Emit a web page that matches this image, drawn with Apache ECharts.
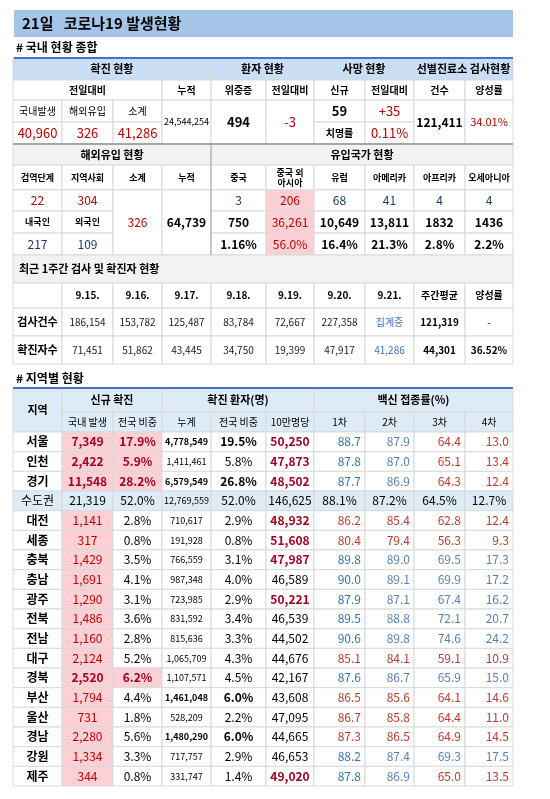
<!DOCTYPE html>
<html><head><meta charset="utf-8">
<script src="https://cdn.jsdelivr.net/npm/echarts@6/dist/echarts.min.js"></script>
<style>html,body{margin:0;padding:0;background:#fff}#c{width:550px;height:799px}</style>
</head><body><div id="c"></div>
<script>
// ---------- data ----------
const titleText = '21일   코로나19 발생현황';
const summaryHeaders = ['확진 현황','환자 현황','사망 현황','선별진료소 검사현황'];
const summarySub = ['전일대비','누적','위중증','전일대비','신규','전일대비','건수','양성률'];
const newLabels = ['국내발생','해외유입','소계'];
const newValues = [40960, 326, 41286];
const cumulative = 24544254;
const critical = 494, criticalDiff = '-3';
const deaths = 59, deathDiff = '+35', fatality = '0.11%';
const tests = 121411, posRate = '34.01%';

const importLabels = ['검역단계','지역사회','소계','누적'];
const countryNames = ['중국','중국 외\n아시아','유럽','아메리카','아프리카','오세아니아'];
const importStage = [22, 304];
const importNat = [217, 109];
const importTotal = 326, importCum = 64739;
const countryNew = [3, 206, 68, 41, 4, 4];
const countryCum = [750, 36261, 10649, 13811, 1832, 1436];
const countryShare = ['1.16%','56.0%','16.4%','21.3%','2.8%','2.2%'];

const weekDates = ['9.15.','9.16.','9.17.','9.18.','9.19.','9.20.','9.21.'];
const weekTests = [186154,153782,125487,83784,72667,227358,'집계중'];
const weekConfirmed = [71451,51862,43445,34750,19399,47917,41286];
const weekTestAvg = 121319, weekTestRate = '-';
const weekConfAvg = 44301, weekConfRate = '36.52%';

const regions = ['서울','인천','경기','수도권','대전','세종','충북','충남','광주','전북','전남','대구','경북','부산','울산','경남','강원','제주'];
const regNew = [7349,2422,11548,21319,1141,317,1429,1691,1290,1486,1160,2124,2520,1794,731,2280,1334,344];
const regNewShare = ['17.9%','5.9%','28.2%','52.0%','2.8%','0.8%','3.5%','4.1%','3.1%','3.6%','2.8%','5.2%','6.2%','4.4%','1.8%','5.6%','3.3%','0.8%'];
const regCum = [4778549,1411461,6579549,12769559,710617,191928,766559,987348,723985,831592,815636,1065709,1107571,1461048,528209,1480290,717757,331747];
const regCumShare = ['19.5%','5.8%','26.8%','52.0%','2.9%','0.8%','3.1%','4.0%','2.9%','3.4%','3.3%','4.3%','4.5%','6.0%','2.2%','6.0%','2.9%','1.4%'];
const regPer100k = [50250,47873,48502,146625,48932,51608,47987,46589,50221,46539,44502,44676,42167,43608,47095,44665,46653,49020];
const vac1 = ['88.7','87.8','87.7','88.1%','86.2','80.4','89.8','90.0','87.9','89.5','90.6','85.1','87.6','86.5','86.7','87.3','88.2','87.8'];
const vac2 = ['87.9','87.0','86.9','87.2%','85.4','79.4','89.0','89.1','87.1','88.8','89.8','84.1','86.7','85.6','85.8','86.5','87.4','86.9'];
const vac3 = ['64.4','65.1','64.3','64.5%','62.8','56.3','69.5','69.9','67.4','72.1','74.6','59.1','65.9','64.1','64.4','64.9','69.3','65.0'];
const vac4 = ['13.0','13.4','12.4','12.7%','12.4','9.3','17.3','17.2','16.2','20.7','24.2','10.9','15.0','14.6','11.0','14.5','17.5','13.5'];
// vaccine colour flags: B=blue, R=red per region row (4 doses)
const vacTone = ['BBRR','BBRR','BBRR','----','RRRR','RRRR','BBBB','BBBB','BBBB','BBBB','BBBB','RRRR','BBBB','RRRR','RRRR','RRRR','BBBB','BBRR'];

// ---------- layout ----------
const X = [13,62,113,162,211,266,314,365,414,465,513];
const FONT = '"Noto Sans CJK KR","Noto Sans",sans-serif';
const RED = '#c00000', DRED='#a50021', NAVY='#1f3864', BLUE='#4472c4', GRID='#d9d9d9';
const HBLUE='#ddebf7', GRAY='#f2f2f2', PINK='#fcd0d5';
const fmt = v => typeof v === 'number' ? v.toLocaleString('en-US') : v;
const cells = [];
function cell(c0,c1,y0,y1,text,o){o=o||{};cells.push({x0:X[c0],x1:X[c1],y0,y1,text:text==null?'':String(text),fill:o.fill||'#fff',color:o.color||'#000',bold:!!o.bold,size:o.size||11,align:o.align||'center',stroke:o.stroke===undefined?GRID:o.stroke});}
function bar(x0,x1,y0,y1,fill){cells.push({x0,x1,y0,y1,text:'',fill,stroke:null});}

// summary table
const Y1=[58,80,100,122,144];
[[0,4],[4,6],[6,8],[8,10]].forEach((s,i)=>cell(s[0],s[1],Y1[0],Y1[1],summaryHeaders[i],{fill:'#c9def2',bold:true}));
cell(0,3,Y1[1],Y1[2],summarySub[0],{bold:true,size:10});
summarySub.slice(1).forEach((t,i)=>cell(3+i,4+i,Y1[1],Y1[2],t,{bold:true,size:10}));
newLabels.forEach((t,i)=>cell(i,i+1,Y1[2],Y1[3],t,{size:10}));
newValues.forEach((v,i)=>cell(i,i+1,Y1[3],Y1[4],fmt(v),{color:RED,size:13}));
cell(3,4,Y1[2],Y1[4],fmt(cumulative),{size:9});
cell(4,5,Y1[2],Y1[4],fmt(critical),{bold:true,size:13});
cell(5,6,Y1[2],Y1[4],criticalDiff,{color:RED,size:13});
cell(6,7,Y1[2],Y1[3],fmt(deaths),{bold:true,size:13});
cell(7,8,Y1[2],Y1[3],deathDiff,{color:RED,size:13});
cell(6,7,Y1[3],Y1[4],'치명률',{bold:true,size:10});
cell(7,8,Y1[3],Y1[4],fatality,{color:RED,size:13});
cell(8,9,Y1[2],Y1[4],fmt(tests),{bold:true,size:12});
cell(9,10,Y1[2],Y1[4],posRate,{color:RED,size:11});

// import table
const Y2=[144,165,190,211,233,255];
cell(0,4,Y2[0],Y2[1],'해외유입 현황',{fill:GRAY,bold:true});
cell(4,10,Y2[0],Y2[1],'유입국가 현황',{fill:GRAY,bold:true});
importLabels.forEach((t,i)=>cell(i,i+1,Y2[1],Y2[2],t,{bold:true,size:9}));
countryNames.forEach((t,i)=>cell(4+i,5+i,Y2[1],Y2[2],t,{bold:true,size:9}));
importStage.forEach((v,i)=>cell(i,i+1,Y2[2],Y2[3],fmt(v),{color:RED,size:12}));
cell(0,1,Y2[3],Y2[4],'내국인',{bold:true,size:9});
cell(1,2,Y2[3],Y2[4],'외국인',{bold:true,size:9});
importNat.forEach((v,i)=>cell(i,i+1,Y2[4],Y2[5],fmt(v),{color:NAVY,size:12}));
cell(2,3,Y2[2],Y2[5],fmt(importTotal),{color:RED,size:12});
cell(3,4,Y2[2],Y2[5],fmt(importCum),{bold:true,size:12});
countryNew.forEach((v,i)=>cell(4+i,5+i,Y2[2],Y2[3],fmt(v),{color:i==1?RED:NAVY,fill:i==1?PINK:'#fff',size:12}));
countryCum.forEach((v,i)=>cell(4+i,5+i,Y2[3],Y2[4],i<4?fmt(v):String(v),{color:i==1?RED:'#000',fill:i==1?PINK:'#fff',bold:i!=1,size:12}));
countryShare.forEach((v,i)=>cell(4+i,5+i,Y2[4],Y2[5],v,{color:i==1?RED:'#000',fill:i==1?PINK:'#fff',bold:i!=1,size:12}));

// weekly
const Y3=[255,283,308,336,364];
cell(0,10,Y3[0],Y3[1],'최근 1주간 검사 및 확진자 현황',{fill:GRAY,bold:true,align:'left'});
cell(0,1,Y3[1],Y3[2],'');
weekDates.forEach((t,i)=>cell(1+i,2+i,Y3[1],Y3[2],t,{bold:true,size:10}));
cell(8,9,Y3[1],Y3[2],'주간평균',{bold:true,size:10});
cell(9,10,Y3[1],Y3[2],'양성률',{bold:true,size:10});
cell(0,1,Y3[2],Y3[3],'검사건수',{bold:true,size:11});
weekTests.forEach((v,i)=>cell(1+i,2+i,Y3[2],Y3[3],fmt(v),{size:10,color:i==6?BLUE:'#222'}));
cell(8,9,Y3[2],Y3[3],fmt(weekTestAvg),{bold:true,size:10});
cell(9,10,Y3[2],Y3[3],weekTestRate,{size:10});
cell(0,1,Y3[3],Y3[4],'확진자수',{bold:true,size:11});
weekConfirmed.forEach((v,i)=>cell(1+i,2+i,Y3[3],Y3[4],fmt(v),{size:10,color:i==6?BLUE:'#222'}));
cell(8,9,Y3[3],Y3[4],fmt(weekConfAvg),{bold:true,size:10});
cell(9,10,Y3[3],Y3[4],weekConfRate,{bold:true,size:10});

// region table
const Y4=[388,412,432];
cell(0,1,Y4[0],Y4[2],'지역',{fill:HBLUE,bold:true});
cell(1,3,Y4[0],Y4[1],'신규 확진',{fill:HBLUE,bold:true});
cell(3,6,Y4[0],Y4[1],'확진 환자(명)',{fill:HBLUE,bold:true});
cell(6,10,Y4[0],Y4[1],'백신 접종률(%)',{fill:HBLUE,bold:true});
['국내 발생','전국 비중','누계','전국 비중','10만명당','1차','2차','3차','4차'].forEach((t,i)=>cell(1+i,2+i,Y4[1],Y4[2],t,{fill:HBLUE,size:10}));
const RH = (786-432)/regions.length;
const boldNew=['서울','인천','경기','경북'], boldCum=['서울','경기','부산','경남'];
const boldPer=['서울','인천','경기','대전','세종','충북','광주','제주'];
regions.forEach((r,i)=>{
  const y0=432+i*RH, y1=y0+RH, cap=r==='수도권';
  if(cap){
    const o={fill:HBLUE,size:12};
    cell(0,1,y0,y1,r,o);cell(1,2,y0,y1,fmt(regNew[i]),o);cell(2,3,y0,y1,regNewShare[i],o);
    cell(3,4,y0,y1,fmt(regCum[i]),{fill:HBLUE,size:9});cell(4,5,y0,y1,regCumShare[i],o);cell(5,6,y0,y1,fmt(regPer100k[i]),o);
    [vac1,vac2,vac3,vac4].forEach((a,k)=>cell(6+k,7+k,y0,y1,a[i],o));
    return;
  }
  const bn=boldNew.includes(r), bc=boldCum.includes(r), bp=boldPer.includes(r);
  cell(0,1,y0,y1,r,{bold:true,size:12});
  cell(1,2,y0,y1,fmt(regNew[i]),{fill:PINK,color:bn?DRED:RED,bold:bn,size:12});
  cell(2,3,y0,y1,regNewShare[i],{fill:bn?PINK:'#fff',color:bn?DRED:'#000',bold:bn,size:12});
  cell(3,4,y0,y1,fmt(regCum[i]),{bold:bc,size:9});
  cell(4,5,y0,y1,regCumShare[i],{bold:bc,size:12});
  cell(5,6,y0,y1,fmt(regPer100k[i]),{bold:bp,color:bp?DRED:'#000',size:12});
  [vac1,vac2,vac3,vac4].forEach((a,k)=>cell(6+k,7+k,y0,y1,a[i],{align:'right',size:12,color:vacTone[i][k]==='R'?'#c0392b':(k==0?'#2e75b6':'#5b7fb5')}));
});

// decorative rules
bar(14,513,57,59,'#4472c4');
bar(13,513,143,145,'#a6a6a6');
bar(13,513,387,389,'#4472c4');
bar(210.5,211.5,144,255,'#a6a6a6');

const labels=[
  {x:22,y:23,text:titleText,size:15},
  {x:16,y:47,text:'# 국내 현황 종합',size:12},
  {x:16,y:378,text:'# 지역별 현황',size:12}
];

const chart = echarts.init(document.getElementById('c'));
chart.setOption({
  animation:false,
  grid:{left:0,right:0,top:0,bottom:0},
  xAxis:{type:'value',min:0,max:550,show:false},
  yAxis:{type:'value',min:0,max:799,inverse:true,show:false},
  series:[
    {type:'custom',data:[[14,10,513,37]],z:1,renderItem:(p,api)=>{
      const a=api.coord([api.value(0),api.value(1)]),b=api.coord([api.value(2),api.value(3)]);
      return {type:'rect',shape:{x:a[0],y:a[1],width:b[0]-a[0],height:b[1]-a[1]},style:{fill:'#a4c4e8'}};
    }},
    {type:'custom',z:2,data:cells.map((c,i)=>[c.x0,c.y0,c.x1,c.y1,i]),renderItem:(p,api)=>{
      const c=cells[api.value(4)];
      const a=api.coord([c.x0,c.y0]),b=api.coord([c.x1,c.y1]);
      const w=b[0]-a[0],h=b[1]-a[1];
      const ch=[{type:'rect',shape:{x:a[0],y:a[1],width:w,height:h},style:{fill:c.fill,stroke:c.stroke||null,lineWidth:c.stroke?1:0}}];
      if(c.text){
        const tx=c.align==='left'?a[0]+6:c.align==='right'?b[0]-4:a[0]+w/2;
        ch.push({type:'text',style:{x:tx,y:a[1]+h/2,text:c.text,fill:c.color,font:(c.bold?'bold ':'')+c.size+'px '+FONT,textAlign:c.align,textVerticalAlign:'middle',lineHeight:c.size+1}});
      }
      return {type:'group',children:ch};
    }},
    {type:'custom',z:3,data:labels.map((l,i)=>[l.x,l.y,i]),renderItem:(p,api)=>{
      const l=labels[api.value(2)],a=api.coord([l.x,l.y]);
      return {type:'text',style:{x:a[0],y:a[1],text:l.text,fill:'#000',font:'bold '+l.size+'px '+FONT,textVerticalAlign:'middle'}};
    }}
  ]
});
</script></body></html>
